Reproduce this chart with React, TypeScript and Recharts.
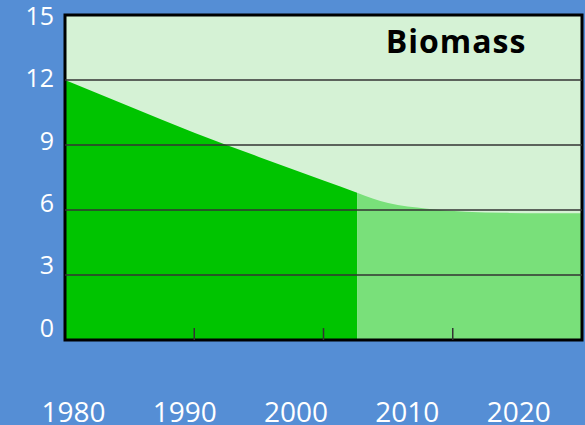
import React from 'react';
import {
  AreaChart,
  Area,
  XAxis,
  YAxis,
  CartesianGrid,
  ReferenceLine,
  ReferenceArea,
} from 'recharts';

// years on the plot axis (1980 at the left edge, 2020 at the right edge)
const years = [1980, 1985, 1990, 1995, 2000, 2002.6, 2005, 2008, 2011, 2014, 2017, 2020];
const pastBiomass = [12, 10.78, 9.57, 8.45, 7.36, 6.8, null, null, null, null, null, null];
const projectedBiomass = [null, null, null, null, null, 6.8, 6.32, 6.06, 5.92, 5.87, 5.85, 5.85];

const yearLabels = [1980, 1990, 2000, 2010, 2020];
const valueLabels = [0, 3, 6, 9, 12, 15];
const gridValues = [3, 6, 9, 12];
const innerTicks = [1990, 2000, 2010];

const data = years.map((year, i) => ({
  year,
  past: pastBiomass[i],
  projected: projectedBiomass[i],
}));

const FONT = '"Open Sans", sans-serif';

function YearTick(props: any) {
  const { x, y, payload } = props;
  return (
    <text x={x} y={y} dy={74} textAnchor="middle" fill="#fff" fontSize={28} fontFamily={FONT}>
      {payload.value}
    </text>
  );
}

function ValueTick(props: any) {
  const { x, y, payload } = props;
  return (
    <text x={x} y={y} dx={-3} dy={9} textAnchor="end" fill="#fff" fontSize={25} fontFamily={FONT}>
      {payload.value}
    </text>
  );
}

export default function App() {
  return (
    <div
      style={{
        position: 'fixed',
        top: 0,
        left: 0,
        width: 585,
        height: 425,
        background: '#558ed5',
      }}
    >
      <AreaChart
        width={585}
        height={425}
        data={data}
        margin={{ top: 15, right: 3, left: 0, bottom: 0 }}
      >
        <CartesianGrid horizontal={false} vertical={false} fill="#d5f2d5" stroke="none" />
        <XAxis
          xAxisId="lbl"
          dataKey="year"
          type="number"
          domain={[1979.24, 2025.69]}
          ticks={yearLabels}
          allowDataOverflow
          height={85}
          axisLine={false}
          tickLine={false}
          tick={<YearTick />}
        />
        <YAxis
          yAxisId="lbl"
          type="number"
          domain={[-0.6, 15.05]}
          ticks={valueLabels}
          allowDataOverflow
          width={65}
          axisLine={false}
          tickLine={false}
          tick={<ValueTick />}
        />
        <XAxis dataKey="year" type="number" domain={[1980, 2020]} allowDataOverflow hide height={0} />
        <YAxis type="number" domain={[0, 15]} allowDataOverflow hide width={0} />
        <Area
          type="monotone"
          dataKey="past"
          stroke="none"
          fill="#00c400"
          fillOpacity={1}
          isAnimationActive={false}
        />
        <Area
          type="monotone"
          dataKey="projected"
          stroke="none"
          fill="#79e07a"
          fillOpacity={1}
          isAnimationActive={false}
        />
        {gridValues.map((v) => (
          <ReferenceLine key={v} y={v} stroke="#333" strokeWidth={1.5} />
        ))}
        {innerTicks.map((t) => (
          <ReferenceLine
            key={t}
            segment={[
              { x: t, y: 0 },
              { x: t, y: 0.55 },
            ]}
            stroke="#333"
            strokeWidth={1.5}
          />
        ))}
        <ReferenceArea
          x1={1980}
          x2={2020}
          y1={0}
          y2={15}
          fill="none"
          stroke="#000"
          strokeWidth={3}
        />
      </AreaChart>
      <div
        style={{
          position: 'absolute',
          left: 356,
          top: 25,
          width: 200,
          textAlign: 'center',
          fontFamily: FONT,
          fontWeight: 700,
          fontSize: 32,
          lineHeight: '32px',
          letterSpacing: 1,
          color: '#000',
        }}
      >
        Biomass
      </div>
    </div>
  );
}
